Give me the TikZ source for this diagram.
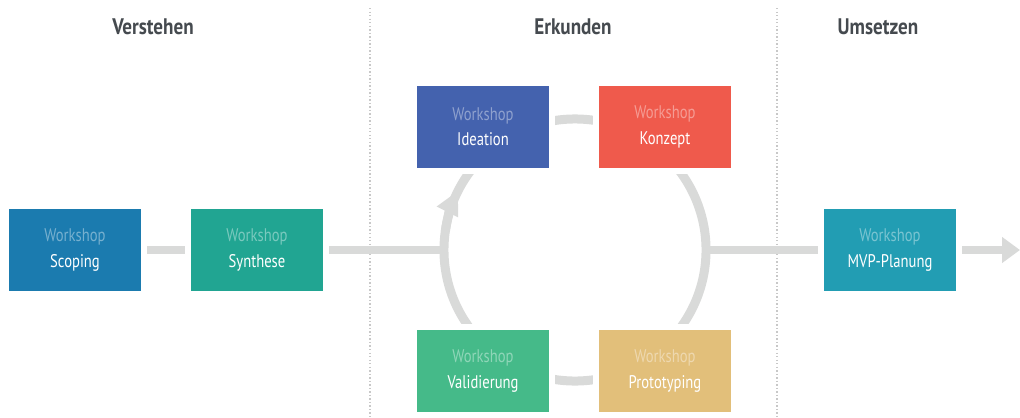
\documentclass[tikz,border=0pt]{standalone}
\usepackage{fontspec}
\setmainfont{PT Sans}
\newfontfamily\condfont[FakeStretch=0.8]{PT Sans}
\newfontfamily\headfont[FakeStretch=0.85]{PT Sans}
\usetikzlibrary{arrows.meta}

\definecolor{scopingblue}{HTML}{1B7BAF}
\definecolor{synthteal}{HTML}{21A592}
\definecolor{ideablue}{HTML}{4462AE}
\definecolor{konzeptred}{HTML}{EF5A4C}
\definecolor{validgreen}{HTML}{45BA89}
\definecolor{protosand}{HTML}{E2BF7A}
\definecolor{mvpcyan}{HTML}{229DB3}
\definecolor{linegrey}{HTML}{D9DAD9}
\definecolor{dotgrey}{HTML}{C8C8C8}
\definecolor{headgrey}{HTML}{454A4F}

\newcommand\wstext[2]{{\color{white!40!#1}Workshop}\\#2}

\begin{document}
\begin{tikzpicture}[x=0.025cm,y=0.025cm,
    phase/.style={font=\headfont\bfseries\fontsize{16}{19}\selectfont, text=headgrey},
    box/.style={rectangle, fill=#1, text=white, minimum width=3.3cm, minimum height=2.05cm,
      outer sep=0.15cm, align=center, font=\condfont\fontsize{13}{18}\selectfont,
      preaction={draw=white, line width=0.3cm}},
    ring/.style={draw=linegrey, line width=0.225cm},
    link/.style={draw=linegrey, line width=0.2cm},
    divider/.style={draw=dotgrey, line width=0.8pt, dash pattern=on 1pt off 1.5pt}]
  \useasboundingbox (0,0) rectangle (1020,417);

  \draw[divider] (370,409) -- (370,0);
  \draw[divider] (777,409) -- (777,0);

  \node[phase] (verstehen) at (153,390) {Verstehen};
  \node[phase] (erkunden) at (573,390) {Erkunden};
  \node[phase] (umsetzen) at (878,390) {Umsetzen};

  \node[ring, circle, minimum size=6.55cm, outer sep=0pt] (cycle) at (575,167) {};
  \draw[ring, -{Triangle[width=0.55cm,length=0.6cm]}] (cycle.172)
    arc[start angle=172, end angle=153, radius=3.275cm];

  \node[box=scopingblue] (scoping) at (75,167) {\wstext{scopingblue}{Scoping}};
  \node[box=synthteal] (synthese) at (257,167) {\wstext{synthteal}{Synthese}};
  \node[box=ideablue] (ideation) at (483,290) {\wstext{ideablue}{Ideation}};
  \node[box=konzeptred] (konzept) at (665,290) {\wstext{konzeptred}{Konzept}};
  \node[box=validgreen] (validierung) at (483,46) {\wstext{validgreen}{Validierung}};
  \node[box=protosand] (prototyping) at (665,46) {\wstext{protosand}{Prototyping}};
  \node[box=mvpcyan] (mvp) at (890,167) {\wstext{mvpcyan}{MVP-Planung}};
  \coordinate (out) at (1020,167);

  \draw[link] (scoping) -- (synthese);
  \draw[link] (synthese) -- (cycle.west);
  \draw[link] (cycle.east) -- (mvp);
  \draw[link, -{Triangle[width=0.625cm,length=0.45cm]}] (mvp) -- (out);
\end{tikzpicture}
\end{document}
